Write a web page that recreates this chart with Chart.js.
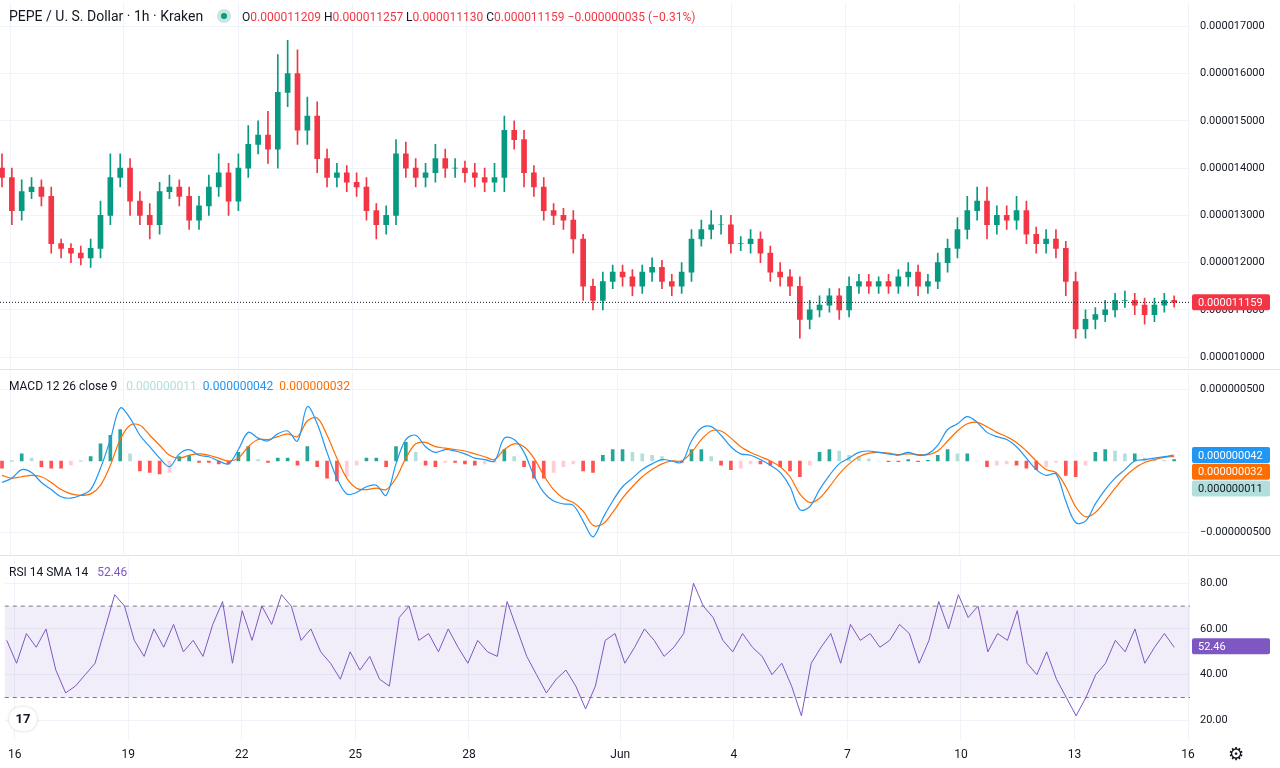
<!DOCTYPE html>
<html>
<head>
<meta charset="utf-8">
<script src="https://cdn.jsdelivr.net/npm/chart.js@4.4.1/dist/chart.umd.min.js"></script>
<style>
  html, body { margin: 0; padding: 0; background: #fff; width: 1280px; height: 768px; overflow: hidden; font-family: Roboto, "Noto Sans", sans-serif; }
  .clip { position: absolute; left: 0; width: 1280px; overflow: hidden; }
  .pane { position: absolute; left: 0; width: 1280px; }
  .legend { position: absolute; left: 9px; font-size: 13px; color: #131722; white-space: nowrap; z-index: 5; }
  .sep { position: absolute; left: 0; width: 1280px; height: 1px; background: #e0e3eb; z-index: 4; }
</style>
</head>
<body>
<div class="clip" style="top:0;height:369px"><div class="pane" style="top:-14px;height:401px"><canvas id="priceChart"></canvas></div></div>
<div class="clip" style="top:370px;height:185px"><div class="pane" style="top:-14px;height:217px"><canvas id="macdChart"></canvas></div></div>
<div class="clip" style="top:556px;height:212px"><div class="pane" style="top:-14px;height:226px"><canvas id="rsiChart"></canvas></div></div>
<div class="sep" style="top:369px"></div>
<div class="sep" style="top:555px"></div>

<div class="legend" style="top:8px;font-size:14px">PEPE / U. S. Dollar · 1h · Kraken
  <span style="display:inline-block;width:14px;height:14px;border-radius:7px;background:#c8e6e0;vertical-align:-2px;margin:0 8px 0 10px;position:relative"><span style="position:absolute;left:4px;top:4px;width:6px;height:6px;border-radius:3px;background:#089981"></span></span>
  <span style="font-size:12px">O<span style="color:#f23645">0.000011209</span> H<span style="color:#f23645">0.000011257</span> L<span style="color:#f23645">0.000011130</span> C<span style="color:#f23645">0.000011159</span> <span style="color:#f23645">−0.000000035 (−0.31%)</span></span>
</div>
<div class="legend" style="top:379px;font-size:12px">MACD 12 26 close 9 &nbsp;&nbsp;<span style="color:#b2dfdb">0.000000011</span> &nbsp;<span style="color:#2196f3">0.000000042</span> &nbsp;<span style="color:#ff6d00">0.000000032</span></div>
<div class="legend" style="top:565px;font-size:12px">RSI 14 SMA 14 &nbsp;&nbsp;<span style="color:#7e57c2">52.46</span></div>
<div style="position:absolute;left:9px;top:707px;width:28px;height:24px;border-radius:12px;background:#fff;box-shadow:0 0 3px rgba(0,0,0,0.2);font:bold 13px Roboto;text-align:center;line-height:24px;color:#131722;z-index:5">17</div>
<div style="position:absolute;left:1228px;top:743px;font-size:18px;color:#131722;z-index:5">⚙</div>

<script>
// ==========================================
// Data (price in units of 1e-8, MACD in units of 1e-9)
// ==========================================
const closes = [
  1380,1310,1350,1360,1340,1240,1230,1220,1210,1230,
  1300,1380,1400,1330,1300,1280,1350,1360,1340,1290,
  1320,1360,1390,1330,1400,1450,1470,1440,1560,1600,
  1480,1510,1420,1380,1390,1370,1360,1310,1280,1300,
  1430,1400,1380,1390,1420,1400,1400,1390,1380,1370,
  1380,1480,1460,1390,1360,1310,1300,1290,1250,1150,
  1120,1160,1180,1170,1150,1180,1190,1160,1150,1180,
  1250,1270,1280,1280,1240,1240,1250,1220,1180,1170,
  1150,1080,1100,1110,1130,1100,1150,1160,1150,1160,
  1150,1170,1180,1150,1160,1200,1230,1270,1310,1330,
  1280,1300,1290,1310,1260,1240,1250,1230,1160,1060,
  1080,1090,1100,1120,1120,1110,1090,1110,1120,1116
];
const firstOpen = 1400;
const wickUp = [
  30,20,25,20,15,20,10,10,15,20,
  30,50,30,20,20,25,20,25,15,20,
  20,25,40,20,30,40,30,50,80,70,
  50,40,30,20,20,15,20,20,15,20,
  30,25,20,20,30,20,20,15,20,20,
  30,30,20,20,15,20,15,15,20,10,
  15,20,15,15,15,15,20,15,15,20,
  20,20,30,20,20,15,20,15,15,20,
  15,20,20,20,15,15,20,15,15,10,
  15,15,20,15,15,20,20,25,30,30,
  30,20,20,30,20,15,20,20,15,20,
  20,15,20,15,20,15,15,15,15,10
];
const wickDn = [
  20,30,20,15,20,20,20,20,15,20,
  20,20,20,30,20,30,20,15,20,20,
  20,20,20,30,20,20,20,30,40,30,
  30,30,30,20,20,20,20,20,30,20,
  20,20,20,20,20,20,20,20,20,20,
  20,30,20,30,20,20,20,20,30,30,
  20,20,15,20,20,15,20,15,20,15,
  20,15,20,20,20,15,20,20,20,20,
  20,40,20,15,15,20,15,15,15,15,
  15,15,20,20,15,15,20,20,20,20,
  30,20,20,20,20,20,20,20,30,20,
  20,20,15,15,15,20,20,15,15,10
];
const macdLine = [
  -150,-120,-60,-80,-150,-200,-250,-260,-240,-200,
  -50,150,370,300,180,100,20,-40,50,80,
  40,30,0,-20,80,200,160,140,190,210,
  140,380,260,60,-120,-230,-220,-180,-170,-240,
  -20,150,180,100,60,80,70,50,20,10,
  0,160,150,60,-100,-220,-280,-300,-310,-420,
  -530,-400,-280,-180,-120,-60,-20,10,0,-10,
  140,230,240,180,100,50,40,10,-30,-80,
  -180,-340,-320,-200,-100,-20,20,60,70,60,
  50,40,60,40,50,110,220,260,310,270,
  200,170,150,100,20,-60,-100,-90,-280,-430,
  -420,-300,-200,-120,-60,0,10,20,30,42
];
const signalLine = [
  -100,-120,-110,-100,-110,-150,-200,-230,-240,-230,
  -170,-30,150,250,250,180,110,40,20,40,
  50,40,20,0,20,100,150,150,170,190,
  170,280,300,180,20,-120,-190,-200,-190,-200,
  -120,20,120,130,100,90,80,70,50,30,
  10,80,120,100,20,-100,-200,-260,-290,-350,
  -450,-440,-360,-260,-180,-110,-60,-20,0,0,
  60,150,210,210,160,100,60,30,0,-40,
  -110,-230,-290,-260,-180,-90,-20,30,55,60,
  55,45,50,45,45,70,140,210,260,270,
  240,200,170,130,70,0,-60,-80,-180,-320,
  -390,-360,-280,-190,-110,-50,-10,10,25,32
];
const rsiValues = [
  55,45,58,52,60,42,32,35,40,45,
  60,75,70,55,48,60,52,62,50,55,
  48,62,72,45,68,55,70,62,75,70,
  55,60,50,45,38,50,42,48,38,35,
  65,70,55,58,50,60,52,45,55,50,
  48,72,60,48,40,32,38,42,35,25,
  35,55,58,45,52,60,55,48,52,58,
  80,70,65,55,50,58,52,48,40,45,
  35,22,45,52,58,45,62,55,58,52,
  55,62,58,45,55,72,60,75,65,70,
  50,58,55,68,45,40,50,38,30,22,
  30,40,45,55,50,60,45,52,58,52
];
const dayTicks = [0, 3, 6, 9, 12, 16, 19, 22, 25, 28, 31];
const dayLabels = ['16', '19', '22', '25', '28', 'Jun', '4', '7', '10', '13', '16'];
const lastClose = 1115.9;

// ==========================================
// Helpers
// ==========================================
const GREEN = '#089981', RED = '#f23645', GRID = '#f0f3fa';
const AXIS_W = 90;
const X_MIN = -10 / 38, X_MAX = 1180 / 38;
const xOf = i => (i * 9.85 - 8) / 38;

const opens = closes.map((c, i) => i === 0 ? firstOpen : closes[i - 1]);
const bodies = closes.map((c, i) => ({ x: xOf(i), y: [opens[i], c] }));
const wicks = closes.map((c, i) => ({
  x: xOf(i),
  y: [Math.min(opens[i], c) - wickDn[i], Math.max(opens[i], c) + wickUp[i]]
}));
const candleColors = closes.map((c, i) => c >= opens[i] ? GREEN : RED);

const hist = macdLine.map((m, i) => m - signalLine[i]);
const histColors = hist.map((h, i) => {
  const prev = i > 0 ? hist[i - 1] : 0;
  if (h >= 0) return h >= prev ? '#26a69a' : '#b2dfdb';
  return h <= prev ? '#ff5252' : '#ffcdd2';
});

function xScale(showLabels) {
  return {
    type: 'linear', min: X_MIN, max: X_MAX, offset: false,
    afterBuildTicks: s => { s.ticks = dayTicks.map(v => ({ value: v })); },
    afterFit: s => { s.height = showLabels ? 28 : 0; },
    grid: { color: GRID, drawTicks: false, offset: false },
    border: { display: false },
    ticks: {
      display: showLabels, color: '#131722', font: { size: 12, family: 'Roboto' }, padding: 8,
      maxRotation: 0, autoSkip: false,
      callback: v => dayLabels[dayTicks.indexOf(v)]
    }
  };
}

function yScale(min, max, ticks, fmt) {
  return {
    position: 'right', min: min, max: max,
    afterBuildTicks: s => { s.ticks = ticks.map(v => ({ value: v })); },
    afterFit: s => { s.width = AXIS_W; },
    grid: { color: GRID, drawTicks: false },
    border: { display: false },
    ticks: { color: '#131722', font: { size: 11, family: 'Roboto' }, padding: 10, callback: fmt }
  };
}

// draws value tags on the right axis: [{value, bg, fg, text}]
function tagsPlugin(tags, extra) {
  return {
    id: 'tags',
    afterDraw(chart) {
      const ctx = chart.ctx, y = chart.scales.y, area = chart.chartArea;
      ctx.save();
      if (extra) extra(chart);
      tags.forEach(t => {
        const py = y.getPixelForValue(t.value);
        ctx.fillStyle = t.bg;
        ctx.beginPath();
        ctx.roundRect(area.right + 2, py - 8, 78, 16, 2);
        ctx.fill();
        ctx.fillStyle = t.fg;
        ctx.font = '11px Roboto';
        ctx.textBaseline = 'middle';
        ctx.fillText(t.text, area.right + 8, py + 1);
      });
      ctx.restore();
    }
  };
}

const baseOptions = {
  responsive: true, maintainAspectRatio: false, animation: false,
  layout: { padding: 0 },
  plugins: { legend: { display: false }, tooltip: { enabled: false } }
};

// ==========================================
// Price panel
// ==========================================
new Chart(document.getElementById('priceChart'), {
  type: 'bar',
  data: {
    datasets: [
      { data: wicks, backgroundColor: candleColors, barThickness: 1, grouped: false },
      { data: bodies, backgroundColor: candleColors, barThickness: 5, grouped: false }
    ]
  },
  options: Object.assign({}, baseOptions, {
    scales: {
      x: xScale(false),
      y: yScale(972, 1750, [1000, 1100, 1200, 1300, 1400, 1500, 1600, 1700], v => (v * 1e-8).toFixed(9))
    }
  }),
  plugins: [tagsPlugin([{ value: lastClose, bg: RED, fg: '#fff', text: (lastClose * 1e-8).toFixed(9) }], chart => {
    const ctx = chart.ctx, py = chart.scales.y.getPixelForValue(lastClose);
    ctx.strokeStyle = '#131722';
    ctx.setLineDash([1, 2]);
    ctx.beginPath();
    ctx.moveTo(chart.chartArea.left, py);
    ctx.lineTo(chart.chartArea.right, py);
    ctx.stroke();
    ctx.setLineDash([]);
  })]
});

// ==========================================
// MACD panel
// ==========================================
new Chart(document.getElementById('macdChart'), {
  type: 'bar',
  data: {
    datasets: [
      { type: 'line', data: macdLine.map((v, i) => ({ x: xOf(i), y: v })), borderColor: '#2196f3', borderWidth: 1.2, pointRadius: 0, tension: 0.35 },
      { type: 'line', data: signalLine.map((v, i) => ({ x: xOf(i), y: v })), borderColor: '#ff6d00', borderWidth: 1.2, pointRadius: 0, tension: 0.35 },
      { data: hist.map((v, i) => ({ x: xOf(i), y: v })), backgroundColor: histColors, barThickness: 3, grouped: false }
    ]
  },
  options: Object.assign({}, baseOptions, {
    scales: {
      x: xScale(false),
      y: yScale(-667, 618, [-500, 500], v => (v < 0 ? '−' : '') + (Math.abs(v) * 1e-9).toFixed(9))
    }
  }),
  plugins: [tagsPlugin([
    { value: 42, bg: '#2196f3', fg: '#fff', text: '0.000000042' },
    { value: 42 - 117, bg: '#ff6d00', fg: '#fff', text: '0.000000032' },
    { value: 42 - 234, bg: '#b2dfdb', fg: '#131722', text: '0.000000011' }
  ])]
});

// ==========================================
// RSI panel
// ==========================================
new Chart(document.getElementById('rsiChart'), {
  type: 'line',
  data: {
    datasets: [
      { data: rsiValues.map((v, i) => ({ x: xOf(i), y: v })), borderColor: '#7e57c2', borderWidth: 1, pointRadius: 0, tension: 0 }
    ]
  },
  options: Object.assign({}, baseOptions, {
    scales: {
      x: xScale(true),
      y: yScale(11.4, 90.8, [20, 40, 60, 80], v => v.toFixed(2))
    }
  }),
  plugins: [{
    id: 'band',
    beforeDatasetsDraw(chart) {
      const ctx = chart.ctx, y = chart.scales.y, a = chart.chartArea;
      const y70 = y.getPixelForValue(70), y30 = y.getPixelForValue(30);
      ctx.save();
      ctx.fillStyle = 'rgba(126,87,194,0.1)';
      ctx.fillRect(a.left, y70, a.right - a.left, y30 - y70);
      ctx.strokeStyle = '#787b86';
      ctx.setLineDash([4, 4]);
      [y70, y30].forEach(py => {
        ctx.beginPath(); ctx.moveTo(a.left, py); ctx.lineTo(a.right, py); ctx.stroke();
      });
      ctx.restore();
    }
  }, tagsPlugin([{ value: 52.46, bg: '#7e57c2', fg: '#fff', text: '52.46' }])]
});
</script>
</body>
</html>
